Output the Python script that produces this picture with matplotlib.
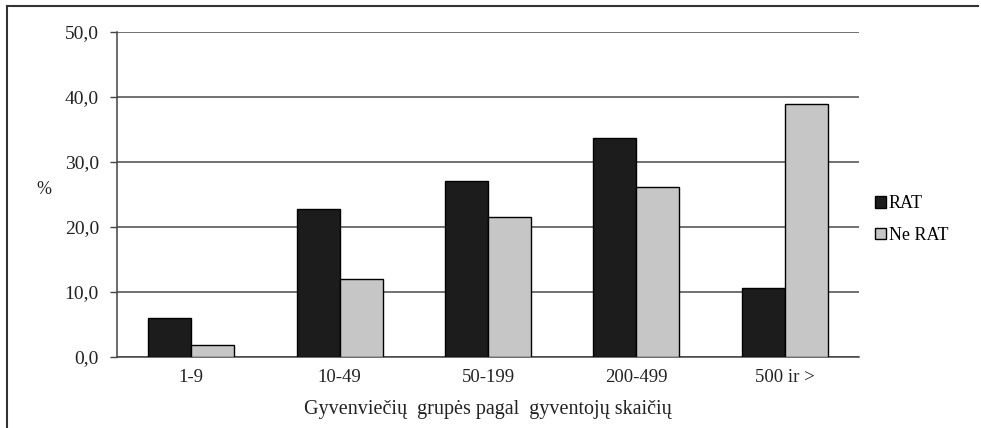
import matplotlib.pyplot as plt
import numpy as np
from matplotlib.lines import Line2D

# Data

categories = ["1-9", "10-49", "50-199", "200-499", "500 ir >"]
rat = [6.0, 22.8, 27.1, 33.7, 10.6]
ne_rat = [1.8, 12.0, 21.5, 26.2, 38.9]
yticks = [0, 10, 20, 30, 40, 50]

plt.rcParams["font.family"] = ["Liberation Serif", "DejaVu Serif"]

fig = plt.figure(figsize = (9.81, 4.28), dpi = 100)
ax = fig.add_axes([117/981, 1 - 357/428, (859 - 117)/981, (357 - 32)/428])

x = np.arange(len(categories))
w = 0.29
ax.bar(x - w/2, rat, w, color = "#1c1c1c", edgecolor = "black", linewidth = 1, label = "RAT", zorder = 3)
ax.bar(x + w/2, ne_rat, w, color = "#c6c6c6", edgecolor = "black", linewidth = 1, label = "Ne RAT", zorder = 3)

ax.set_xlim(-0.5, len(categories) - 0.5)
ax.set_ylim(0, 50)
ax.set_yticks(yticks)
ax.set_yticklabels([f"{v:.1f}".replace(".", ",") for v in yticks], fontsize = 14, color = "#222222")
ax.set_xticks(x)
ax.set_xticklabels(categories, fontsize = 13.5, color = "#222222")
ax.tick_params(axis = "x", length = 0, pad = 9)
ax.tick_params(axis = "y", length = 5, width = 1, color = "#444444", pad = 8)
ax.grid(axis = "y", color = "#4a4a4a", linewidth = 1.1, zorder = 0)

for s in ["top", "right"]:
    ax.spines[s].set_visible(False)
ax.spines["left"].set_color("#444444")
ax.spines["bottom"].set_color("#444444")
ax.spines["left"].set_linewidth(1.1)
ax.spines["bottom"].set_linewidth(1.1)

ax.set_xlabel("Gyvenviečių  grupės pagal  gyventojų skaičių", fontsize = 14.5, color = "#222222", labelpad = 10)
fig.text(44/981, 1 - 190/428, "%", fontsize = 13, ha = "center", va = "center", color = "#222222")

ax.legend(loc = "upper left", bbox_to_anchor = (868/981, 1 - 188/428), bbox_transform = fig.transFigure,
          frameon = False, fontsize = 13, handlelength = 0.6, handleheight = 0.6, handletextpad = 0.15,
          labelspacing = 0.8, borderaxespad = 0)

# Frame lines (top and left only)
fig.add_artist(Line2D([7/981, 978/981], [1 - 6/428, 1 - 6/428], transform = fig.transFigure, color = "#333333", linewidth = 1.5))
fig.add_artist(Line2D([7/981, 7/981], [0, 1 - 6/428], transform = fig.transFigure, color = "#333333", linewidth = 1.5))

fig.savefig("out.png", dpi = 100)
